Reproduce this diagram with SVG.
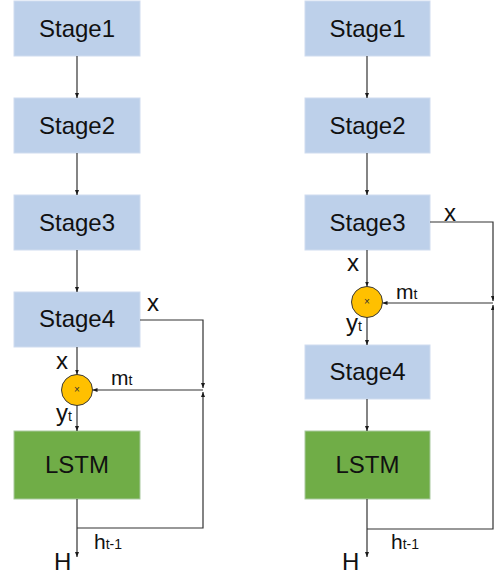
<svg xmlns="http://www.w3.org/2000/svg" width="494" height="576" viewBox="0 0 494 576">
  <defs>
    <marker id="arr" viewBox="0 0 5 4" refX="5" refY="2" markerWidth="5" markerHeight="4" markerUnits="userSpaceOnUse" orient="auto">
      <path d="M0,0 L5,2 L0,4 z" fill="#1a1a1a"/>
    </marker>
  </defs>
  <style>
    .stage { fill: #bdd0ea; stroke: #cfdcef; stroke-width: 1; }
    .lstm { fill: #70ad47; stroke: #a9c9a0; stroke-width: 1; }
    .gate { fill: #ffc000; stroke: #3a3a3a; stroke-width: 1; }
    .lbl { font-family: "Liberation Sans", Arial, sans-serif; font-size: 24px; fill: #111; text-anchor: middle; }
    .var { font-family: "Liberation Sans", Arial, sans-serif; font-size: 24px; fill: #111; }
    .sub { font-size: 14px; }
    .mul { font-family: "Liberation Sans", Arial, sans-serif; font-size: 10px; fill: #333; text-anchor: middle; }
    .edge-a { fill: none; stroke: #333; stroke-width: 1.2; marker-end: url(#arr); }
  </style>

  <!-- left pipeline: LSTM fed after Stage4 -->
  <g id="L-stage1"><rect class="stage" x="14" y="1" width="126" height="55"/><text class="lbl" x="77" y="37">Stage1</text></g>
  <g id="L-stage2"><rect class="stage" x="14" y="98" width="126" height="55"/><text class="lbl" x="77" y="134">Stage2</text></g>
  <g id="L-stage3"><rect class="stage" x="14" y="195" width="126" height="55"/><text class="lbl" x="77" y="231">Stage3</text></g>
  <g id="L-stage4"><rect class="stage" x="14" y="292" width="126" height="55"/><text class="lbl" x="77" y="327">Stage4</text></g>
  <g id="L-gate"><circle class="gate" cx="77" cy="390" r="15.5"/><text class="mul" x="77" y="393">×</text></g>
  <g id="L-lstm"><rect class="lstm" x="14" y="431" width="126" height="68"/><text class="lbl" x="77" y="473">LSTM</text></g>

  <!-- right pipeline: LSTM gating after Stage3 -->
  <g id="R-stage1"><rect class="stage" x="305" y="1" width="125" height="55"/><text class="lbl" x="367.5" y="37">Stage1</text></g>
  <g id="R-stage2"><rect class="stage" x="305" y="98" width="125" height="55"/><text class="lbl" x="367.5" y="134">Stage2</text></g>
  <g id="R-stage3"><rect class="stage" x="305" y="195" width="125" height="55"/><text class="lbl" x="367.5" y="231">Stage3</text></g>
  <g id="R-gate"><circle class="gate" cx="367" cy="302" r="15.5"/><text class="mul" x="367" y="305">×</text></g>
  <g id="R-stage4"><rect class="stage" x="305" y="345" width="125" height="54"/><text class="lbl" x="367.5" y="380">Stage4</text></g>
  <g id="R-lstm"><rect class="lstm" x="305" y="431" width="125" height="68"/><text class="lbl" x="367.5" y="473">LSTM</text></g>

  <g id="connectors">
    <!-- left column -->
    <path class="edge-a" d="M77,56 V98"/>
    <path class="edge-a" d="M77,153 V195"/>
    <path class="edge-a" d="M77,250 V292"/>
    <path class="edge-a" d="M77,347 V374.5"/>
    <path class="edge-a" d="M77,405.5 V431"/>
    <path class="edge-a" d="M140,320 H203 V388"/>
    <path class="edge-a" d="M77,499 V557"/>
    <path class="edge-a" d="M77,528 H203 V392"/>
    <path class="edge-a" d="M203,390 H92.5"/>

    <!-- right column -->
    <path class="edge-a" d="M367,56 V98"/>
    <path class="edge-a" d="M367,153 V195"/>
    <path class="edge-a" d="M367,250 V286.5"/>
    <path class="edge-a" d="M367,317.5 V345"/>
    <path class="edge-a" d="M367,399 V431"/>
    <path class="edge-a" d="M430,222 H493 V301"/>
    <path class="edge-a" d="M367,499 V557"/>
    <path class="edge-a" d="M367,529 H493 V305"/>
    <path class="edge-a" d="M493,303 H382.5"/>
  </g>

  <!-- signal labels -->
  <g id="labels">
    <text class="var" x="147" y="311">x</text>
    <text class="var" x="56" y="369">x</text>
    <text class="var" x="111" y="385" style="font-size:21px">m<tspan class="sub">t</tspan></text>
    <text class="var" x="56" y="421">y<tspan class="sub">t</tspan></text>
    <text class="var" x="54" y="570">H</text>
    <text class="var" x="94" y="549" style="font-size:21px">h<tspan class="sub">t-1</tspan></text>

    <text class="var" x="444" y="221">x</text>
    <text class="var" x="347" y="271">x</text>
    <text class="var" x="396" y="299" style="font-size:21px">m<tspan class="sub">t</tspan></text>
    <text class="var" x="346" y="331">y<tspan class="sub">t</tspan></text>
    <text class="var" x="342" y="570">H</text>
    <text class="var" x="391" y="549" style="font-size:21px">h<tspan class="sub">t-1</tspan></text>
  </g>
</svg>
